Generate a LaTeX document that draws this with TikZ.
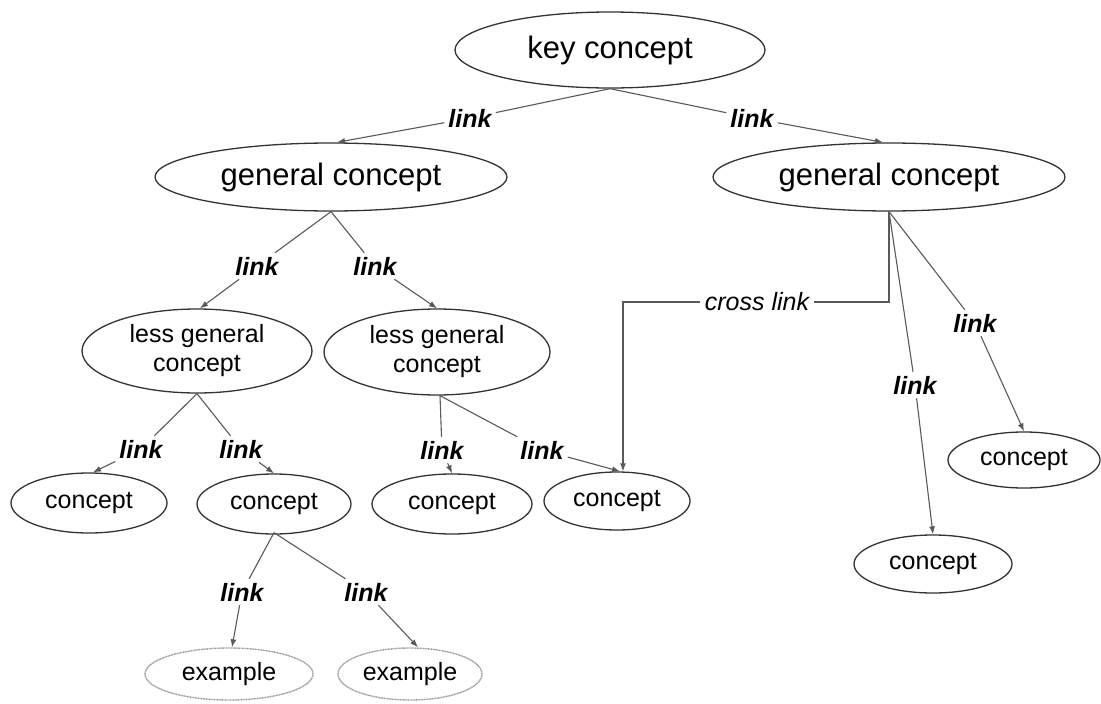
\documentclass[tikz,border=0pt]{standalone}
\usepackage{fontspec}
\setmainfont{Liberation Sans}
\usetikzlibrary{shapes.geometric,arrows.meta}
\begin{document}
\begin{tikzpicture}[x=1pt,y=-1pt,
  concept/.style={ellipse,draw=black!80,line width=1.3pt,inner sep=0pt,font=\fontsize{25}{29}\selectfont,align=center},
  bigconcept/.style={concept,font=\fontsize{31}{35}\selectfont},
  examplebox/.style={ellipse,draw=black!40,line width=1.4pt,dash pattern=on 1pt off 0.6pt,inner sep=0pt,font=\fontsize{25}{29}\selectfont},
  linklabel/.style={inner sep=4pt,font=\fontsize{25}{29}\selectfont\bfseries\itshape},
  crosslabel/.style={inner sep=5pt,font=\fontsize{25}{29}\selectfont\itshape},
  conn/.style={draw=black!65,line width=1.1pt},
  arr/.style={conn,-{Latex[length=8pt,width=6pt]}}
]
\useasboundingbox (0,0) rectangle (1101,704);

% concept nodes
\node[bigconcept,minimum width=310pt,minimum height=76pt] (key) at (610,50) {key concept};
\node[bigconcept,minimum width=352pt,minimum height=68pt] (gl) at (331,177) {general concept};
\node[bigconcept,minimum width=352pt,minimum height=68pt] (gr) at (889,177) {general concept};
\node[concept,minimum width=230pt,minimum height=84pt] (lgl) at (197,351) {less general\\concept};
\node[concept,minimum width=226pt,minimum height=86pt] (lgr) at (437,352) {less general\\concept};
\node[concept,minimum width=156pt,minimum height=60pt] (c1) at (89,503) {concept};
\node[concept,minimum width=154pt,minimum height=60pt] (c2) at (274,504) {concept};
\node[concept,minimum width=160pt,minimum height=60pt] (c3) at (452,504) {concept};
\node[concept,minimum width=146pt,minimum height=58pt] (c4) at (617,501) {concept};
\node[concept,minimum width=152pt,minimum height=56pt] (cr1) at (1024,460) {concept};
\node[concept,minimum width=158pt,minimum height=58pt] (cr2) at (933,564) {concept};
\node[examplebox,minimum width=168pt,minimum height=52pt] (e1) at (229,674) {example};
\node[examplebox,minimum width=144pt,minimum height=52pt] (e2) at (410,674) {example};

% link labels
\node[linklabel] (l1) at (470,118) {link};
\node[linklabel] (l2) at (752,118) {link};
\node[linklabel] (l3) at (257,266) {link};
\node[linklabel] (l4) at (375,266) {link};
\node[linklabel] (l5) at (141,449) {link};
\node[linklabel] (l6) at (241,449) {link};
\node[linklabel] (l7) at (442,450) {link};
\node[linklabel] (l8) at (542,450) {link};
\node[linklabel] (l9) at (242,592) {link};
\node[linklabel] (l10) at (366,592) {link};
\node[linklabel] (l11) at (915,385) {link};
\node[linklabel] (l12) at (975,323) {link};
\node[crosslabel] (cl) at (757,302) {cross link};

% connectors
\draw[conn] (key.south) -- (l1);
\draw[arr] (l1) -- ([xshift=6pt]gl.north);
\draw[conn] (key.south) -- (l2);
\draw[arr] (l2) -- ([xshift=-6pt]gr.north);

\draw[conn] (gl.south) -- (l3);
\draw[arr] (l3) -- ([xshift=3pt]lgl.north);
\draw[conn] (gl.south) -- (l4);
\draw[arr] (l4) -- (lgr.north);

\draw[conn] (lgl.south) -- (l5);
\draw[arr] (l5) -- ([xshift=4pt]c1.north);
\draw[conn] (lgl.south) -- (l6);
\draw[arr] (l6) -- (c2.north);

\draw[conn] ([xshift=3pt]lgr.south) -- (l7);
\draw[arr] (l7) -- (c3.north);
\draw[conn] ([xshift=3pt]lgr.south) -- (l8);
\draw[arr] (l8) -- ([xshift=3pt]c4.north);

\draw[conn] ([yshift=2pt]c2.south) -- (l9);
\draw[arr] (l9) -- ([xshift=3pt]e1.north);
\draw[conn] ([yshift=2pt]c2.south) -- (l10);
\draw[arr] (l10) -- ([xshift=8pt]e2.north);

\draw[conn] (gr.south) -- (l11);
\draw[arr] (l11) -- (cr2.north);
\draw[conn] (gr.south) -- (l12);
\draw[arr] (l12) -- (cr1.north);

\draw[conn] (gr.south) |- (cl.east);
\draw[arr] (cl.west) -| ([xshift=6pt]c4.north);
\end{tikzpicture}
\end{document}
